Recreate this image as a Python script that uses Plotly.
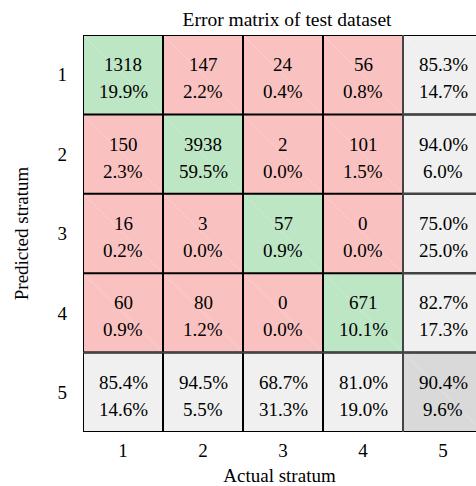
import plotly.graph_objects as go

# Confusion counts: rows = predicted stratum, columns = actual stratum
classes = ["1", "2", "3", "4"]
counts = [
    [1318, 147, 24, 56],
    [150, 3938, 2, 101],
    [16, 3, 57, 0],
    [60, 80, 0, 671],
]
tick_labels = ["1", "2", "3", "4", "5"]

GREEN = "#bde6c5"
PINK = "#f9c2c0"
LIGHT = "#f0f0f0"
DARK = "#d9d9d9"
FONT = "Liberation Serif"

n = len(classes)
total = sum(sum(r) for r in counts)
row_sums = [sum(r) for r in counts]
col_sums = [sum(counts[i][j] for i in range(n)) for j in range(n)]
diag = [counts[i][i] for i in range(n)]


def pct(v):
    return f"{100 * v:.1f}%"


# Build the 5x5 grid: cell colour code and two text lines per cell
size = n + 1
code = [[0] * size for _ in range(size)]
line1 = [[""] * size for _ in range(size)]
line2 = [[""] * size for _ in range(size)]
for i in range(n):
    for j in range(n):
        code[i][j] = 1 if i == j else 0
        line1[i][j] = str(counts[i][j])
        line2[i][j] = pct(counts[i][j] / total)
    p = diag[i] / row_sums[i]
    code[i][n] = 2
    line1[i][n] = pct(p)
    line2[i][n] = pct(1 - p)
for j in range(n):
    r = diag[j] / col_sums[j]
    code[n][j] = 2
    line1[n][j] = pct(r)
    line2[n][j] = pct(1 - r)
acc = sum(diag) / total
code[n][n] = 3
line1[n][n] = pct(acc)
line2[n][n] = pct(1 - acc)

xs = list(range(1, size + 1))
ys = list(range(1, size + 1))

fig = go.Figure(
    go.Heatmap(
        z=code,
        x=xs,
        y=ys,
        zmin=0,
        zmax=3,
        colorscale=[
            [0.0, PINK], [0.25, PINK],
            [0.25, GREEN], [0.5, GREEN],
            [0.5, LIGHT], [0.75, LIGHT],
            [0.75, DARK], [1.0, DARK],
        ],
        showscale=False,
        hoverinfo="skip",
    )
)

# Cell text: count / accuracy on top, percentage / complement below
for i in range(size):
    for j in range(size):
        for txt, shift in ((line1[i][j], 10), (line2[i][j], -17)):
            fig.add_annotation(
                x=xs[j], y=ys[i], text=txt, showarrow=False,
                yshift=shift, font=dict(family=FONT, size=19, color="#000"),
            )

# Faint diagonal seams inside each cell
for i in range(size):
    for j in range(size):
        fig.add_shape(
            type="line", x0=xs[j] - 0.5, y0=ys[i] - 0.5,
            x1=xs[j] + 0.5, y1=ys[i] + 0.5,
            line=dict(color="rgba(255,255,255,0.22)", width=1), layer="above",
        )

# Grid lines: black around the class cells, dark grey around the summary cells
edge = size + 0.5
for k in range(size + 1):
    b = 0.5 + k
    fig.add_shape(type="line", x0=b, x1=b, y0=0.5, y1=edge,
                  line=dict(color="#000", width=2), layer="above")
    fig.add_shape(type="line", y0=b, y1=b, x0=0.5, x1=edge,
                  line=dict(color="#000", width=2), layer="above")
grey = dict(color="#444", width=2)
fig.add_shape(type="line", x0=n + 0.5, x1=n + 0.5, y0=0.5, y1=edge, line=grey, layer="above")
fig.add_shape(type="line", y0=n + 0.5, y1=n + 0.5, x0=0.5, x1=edge, line=grey, layer="above")
for k in range(1, n):
    b = 0.5 + k
    fig.add_shape(type="line", y0=b, y1=b, x0=n + 0.5, x1=edge, line=grey, layer="above")

fig.update_layout(
    width=476,
    height=486,
    margin=dict(l=83, r=0, t=35, b=54),
    paper_bgcolor="white",
    plot_bgcolor="white",
    font=dict(family=FONT, size=19, color="#000"),
    title=dict(
        text="Error matrix of test dataset",
        x=287 / 476, xref="container", xanchor="center",
        y=1 - 19 / 486, yref="container", yanchor="middle",
        font=dict(family=FONT, size=19.5, color="#000"),
    ),
    xaxis=dict(
        range=[0.5, 0.5 + 393 / 80],
        tickvals=xs, ticktext=tick_labels, ticks="",
        showgrid=False, zeroline=False, showline=False,
        ticklabelstandoff=5,
        title=dict(text="Actual stratum", standoff=11,
                   font=dict(family=FONT, size=19)),
        fixedrange=True,
    ),
    yaxis=dict(
        range=[edge, 0.5],
        tickvals=ys, ticktext=tick_labels, ticks="",
        showgrid=False, zeroline=False, showline=False,
        ticklabelstandoff=15,
        title=dict(text="Predicted stratum", standoff=23,
                   font=dict(family=FONT, size=19)),
        fixedrange=True,
    ),
)

fig.write_html("out.html")
